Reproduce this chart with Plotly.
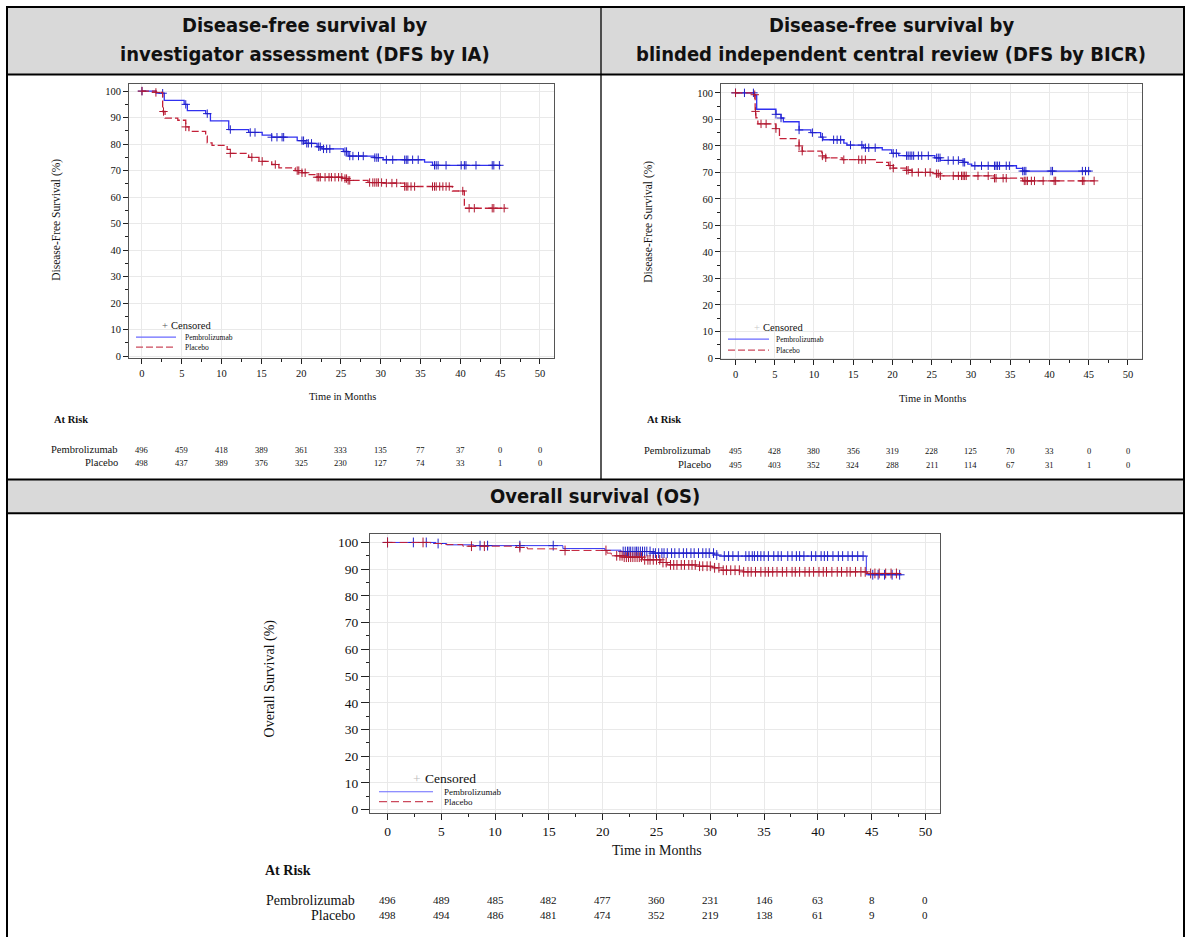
import plotly.graph_objects as go

W, H = 1187, 942
SERIF = "Liberation Serif, Times New Roman, serif"
HEAD = "Liberation Sans Narrow, Arial Narrow, DejaVu Sans Condensed, sans-serif"
BLUE = "#3030f0"
BLUE_M = "#2020c8"
RED = "#c42038"
RED_M = "#b01830"

# ---------------- data ----------------
x_ticks = [0, 5, 10, 15, 20, 25, 30, 35, 40, 45, 50]
y_ticks = [0, 10, 20, 30, 40, 50, 60, 70, 80, 90, 100]
risk_times = [0, 5, 10, 15, 20, 25, 30, 35, 40, 45, 50]
groups = ["Pembrolizumab", "Placebo"]

# DFS by IA
ia_pem_t = [0, 1.8, 2.8, 5.3, 5.7, 8.0, 8.6, 10.9, 13.4, 15.1, 16.3, 19.5, 20.5, 22.0, 22.6, 25.3, 25.9, 29.25, 30.3, 35.5, 36.5, 45.1]
ia_pem_s = [100, 99.2, 96.5, 95.0, 92.6, 91.5, 88.8, 85.5, 84.4, 83.4, 82.6, 81.3, 80.3, 79.0, 78.2, 77.2, 75.5, 74.9, 74.1, 73.2, 72.0, 72.0]
ia_pla_t = [0, 1.75, 2.6, 2.9, 4.5, 5.5, 5.9, 8.0, 8.2, 8.8, 10.7, 11.1, 13.4, 14.7, 16.3, 17.2, 19.25, 20.1, 20.7, 22.0, 25.3, 25.9, 28.4, 30.3, 33.0, 39.0, 40.5, 45.7]
ia_pla_s = [100, 99.5, 92.3, 89.8, 89.0, 86.5, 84.8, 83.0, 80.5, 79.5, 78.0, 76.5, 75.0, 73.5, 72.3, 71.0, 70.0, 69.2, 68.5, 67.5, 67.0, 66.3, 65.5, 65.3, 64.0, 62.3, 55.8, 55.8]
ia_pem_c = [0, 2.6, 5.5, 8.2, 11.1, 13.6, 14.2, 16.3, 16.96, 17.6, 17.8, 20.1, 20.3, 20.7, 20.9, 21.3, 22.2, 22.4, 22.8, 23.2, 23.6, 25.5, 25.7, 26.1, 26.5, 27.2, 27.8, 29.25, 29.5, 29.7, 30.7, 31.5, 33.0, 33.2, 33.4, 34.0, 34.7, 36.75, 36.96, 37.2, 38.2, 40.1, 40.5, 40.7, 41.96, 44.0, 44.2, 44.9]
ia_pla_c = [0, 1.75, 2.7, 5.5, 11.1, 13.8, 15.1, 16.75, 19.5, 19.7, 20.1, 20.5, 22.0, 22.2, 22.4, 23.0, 23.5, 23.8, 24.25, 24.7, 25.1, 25.5, 25.7, 25.9, 26.1, 28.6, 29.0, 29.25, 29.5, 29.7, 30.1, 30.7, 31.4, 32.0, 33.0, 33.2, 33.4, 33.8, 34.25, 36.5, 36.75, 36.96, 37.4, 37.8, 38.2, 38.6, 40.3, 41.1, 41.75, 44.0, 44.2, 45.5]
ia_risk_pem = [496, 459, 418, 389, 361, 333, 135, 77, 37, 0, 0]
ia_risk_pla = [498, 437, 389, 376, 325, 230, 127, 74, 33, 1, 0]

# DFS by BICR
bi_pem_t = [0, 2.4, 2.7, 5.15, 5.8, 6.1, 8.1, 9.6, 10.85, 11.15, 13.8, 14.2, 16.3, 18.7, 19.9, 20.8, 25.4, 26.1, 29.0, 29.6, 30.1, 35.8, 36.6, 45.3]
bi_pem_s = [100, 99.0, 93.8, 91.9, 90.5, 89.1, 86.0, 85.0, 83.3, 82.3, 81.0, 80.3, 79.3, 78.5, 77.2, 76.3, 75.5, 74.5, 73.8, 73.1, 72.5, 71.5, 70.5, 70.5]
bi_pla_t = [0, 2.4, 2.5, 2.6, 2.85, 5.15, 5.6, 8.1, 8.5, 11.0, 11.5, 13.6, 17.8, 19.5, 20.1, 21.8, 22.5, 25.6, 26.1, 33.0, 36.6, 46.1]
bi_pla_s = [100, 99.3, 93.0, 90.6, 88.3, 86.5, 82.7, 80.0, 78.0, 76.2, 75.5, 74.8, 73.8, 72.6, 71.6, 70.8, 70.0, 69.5, 68.7, 67.8, 66.8, 66.8]
bi_pem_c = [0, 1.14, 2.28, 5.15, 5.8, 8.1, 9.8, 11.07, 12.5, 12.95, 13.4, 14.65, 16.1, 16.55, 16.98, 17.8, 20.1, 20.5, 21.8, 22.0, 22.25, 22.47, 22.7, 23.3, 23.73, 24.57, 25.63, 25.84, 26.06, 27.1, 27.75, 28.4, 29.0, 29.2, 30.5, 31.35, 32.2, 33.0, 33.2, 33.4, 33.65, 34.5, 34.9, 36.6, 36.8, 37.0, 40.2, 40.4, 44.2, 44.6, 45.0]
bi_pla_c = [0, 2.45, 2.55, 3.25, 3.9, 5.15, 8.1, 8.5, 11.07, 11.5, 13.8, 15.7, 16.1, 16.55, 19.7, 20.1, 21.8, 22.0, 22.5, 23.3, 24.2, 24.8, 25.6, 25.84, 26.1, 27.75, 28.4, 28.8, 29.0, 29.2, 29.4, 30.9, 32.2, 33.0, 33.2, 34.1, 34.5, 36.8, 37.0, 37.2, 37.7, 38.1, 39.2, 40.6, 40.8, 44.2, 44.4, 45.7]
bi_risk_pem = [495, 428, 380, 356, 319, 228, 125, 70, 33, 0, 0]
bi_risk_pla = [495, 403, 352, 324, 288, 211, 114, 67, 31, 1, 0]

# OS
os_pem_t = [0, 4.5, 5.5, 8.0, 16.3, 20.2, 21.7, 24.6, 30.4, 30.8, 44.5, 47.8]
os_pem_s = [100, 99.6, 99.1, 98.8, 97.7, 97.1, 96.6, 96.0, 95.3, 94.9, 87.9, 87.9]
os_pla_t = [0, 4.0, 5.0, 7.0, 12.0, 13.0, 15.9, 20.4, 20.8, 21.9, 23.7, 25.4, 26.0, 28.7, 30.2, 31.0, 32.9, 44.6, 47.5]
os_pla_s = [100, 99.6, 99.2, 98.6, 98.1, 97.6, 97.0, 96.0, 95.0, 94.5, 93.5, 92.5, 91.6, 91.1, 90.5, 89.6, 89.0, 88.4, 88.4]
os_pem_c = [0, 2.4, 3.6, 4.7, 8.6, 9.3, 12.3, 15.4, 21.9, 22.1, 22.3, 22.45, 22.6, 22.8, 23.0, 23.15, 23.3, 23.5, 23.7, 23.9, 24.1, 24.4, 24.7, 24.9, 25.2, 25.5, 25.7, 26.0, 26.4, 26.7, 27.1, 27.5, 27.8, 28.2, 28.5, 28.9, 29.3, 29.6, 29.9, 30.3, 30.6, 31.3, 31.7, 32.1, 32.6, 33.3, 33.6, 33.9, 34.1, 34.4, 34.7, 35.0, 35.4, 35.9, 36.3, 36.6, 37.2, 37.6, 38.0, 38.3, 38.7, 39.4, 39.8, 40.3, 40.6, 40.9, 41.4, 41.9, 42.3, 42.8, 43.2, 43.7, 44.2, 45.1, 45.6, 46.2, 46.9, 47.6]
os_pla_c = [0, 3.3, 7.8, 9.0, 12.3, 16.5, 20.3, 21.3, 21.6, 21.8, 22.0, 22.2, 22.4, 22.6, 22.8, 23.0, 23.2, 23.4, 23.6, 23.9, 24.2, 24.4, 24.7, 25.0, 25.3, 25.6, 25.9, 26.3, 26.6, 26.9, 27.3, 27.6, 28.0, 28.3, 28.6, 29.0, 29.3, 29.7, 30.0, 30.4, 30.8, 31.2, 31.5, 31.9, 32.3, 32.7, 33.1, 33.5, 33.8, 34.2, 34.7, 35.1, 35.4, 35.8, 36.2, 36.7, 37.1, 37.6, 37.9, 38.3, 38.8, 39.2, 39.6, 40.1, 40.5, 40.8, 41.3, 41.8, 42.2, 42.7, 43.0, 43.5, 44.0, 44.4, 44.9, 45.3, 45.7, 46.3, 46.8, 47.3]
os_risk_pem = [496, 489, 485, 482, 477, 360, 231, 146, 63, 8, 0]
os_risk_pla = [498, 494, 486, 481, 474, 352, 219, 138, 61, 9, 0]

headers_top = [["Disease-free survival by", "investigator assessment (DFS by IA)"],
               ["Disease-free survival by", "blinded independent central review (DFS by BICR)"]]
header_os = "Overall survival (OS)"


# ---------------- helpers ----------------
def px(x):
    return x / W


def py(y):
    return 1 - y / H


def step_val(ts, ss, t):
    v = ss[0]
    for a, b in zip(ts, ss):
        if a <= t:
            v = b
    return v


fig = go.Figure()


def add_km(ts, ss, cens, color, mcolor, dash, width, msize, xa, ya):
    fig.add_trace(go.Scatter(x=ts, y=ss, mode="lines",
                             line=dict(color=color, width=width, dash=dash, shape="hv"),
                             xaxis=xa, yaxis=ya, hoverinfo="skip", showlegend=False))
    fig.add_trace(go.Scatter(x=cens, y=[step_val(ts, ss, c) for c in cens], mode="markers",
                             marker=dict(symbol="cross-thin", size=msize,
                                         line=dict(color=mcolor, width=1.0)),
                             xaxis=xa, yaxis=ya, hoverinfo="skip", showlegend=False))


add_km(ia_pem_t, ia_pem_s, ia_pem_c, BLUE, BLUE_M, "solid", 1.3, 6, "x", "y")
add_km(ia_pla_t, ia_pla_s, ia_pla_c, RED, RED_M, "7px,3px", 1.3, 6, "x", "y")
add_km(bi_pem_t, bi_pem_s, bi_pem_c, BLUE, BLUE_M, "solid", 1.3, 6, "x2", "y2")
add_km(bi_pla_t, bi_pla_s, bi_pla_c, RED, RED_M, "7px,3px", 1.3, 6, "x2", "y2")
add_km(os_pem_t, os_pem_s, os_pem_c, BLUE, BLUE_M, "solid", 1.0, 7, "x3", "y3")
add_km(os_pla_t, os_pla_s, os_pla_c, RED, RED_M, "8px,4px", 1.0, 7, "x3", "y3")


def xax(d0, d1, rng, fs, anchor, tl):
    return dict(domain=[px(d0), px(d1)], range=rng, anchor=anchor,
                tickmode="linear", tick0=0, dtick=5,
                ticks="outside", ticklen=tl, tickwidth=1, tickcolor="#222",
                showline=True, linecolor="#555", linewidth=1, mirror=True,
                showgrid=True, gridcolor="#e9e9e9", gridwidth=1, zeroline=False,
                tickfont=dict(family=SERIF, size=fs, color="#111"),
                minor=dict(tick0=0, dtick=2.5, ticklen=3, tickcolor="#222", ticks="outside", showgrid=False),
                fixedrange=True)


def yax(d0, d1, rng, fs, anchor, tl):
    return dict(domain=[py(d1), py(d0)], range=rng, anchor=anchor,
                tickmode="linear", tick0=0, dtick=10,
                ticks="outside", ticklen=tl, tickwidth=1, tickcolor="#222",
                showline=True, linecolor="#555", linewidth=1, mirror=True,
                showgrid=True, gridcolor="#e9e9e9", gridwidth=1, zeroline=False,
                tickfont=dict(family=SERIF, size=fs, color="#111"),
                minor=dict(tick0=0, dtick=5, ticklen=3, tickcolor="#222", ticks="outside", showgrid=False),
                fixedrange=True)


layout = dict(
    width=W, height=H, autosize=False,
    margin=dict(l=0, r=0, t=0, b=0),
    paper_bgcolor="white", plot_bgcolor="white",
    showlegend=False,
    xaxis=xax(129, 554, [-1.63, 51.76], 10.5, "y", 5),
    yaxis=yax(84, 360, [-0.75, 102.85], 10.5, "x", 5),
    xaxis2=xax(721, 1142, [-1.85, 51.8], 10.5, "y2", 5),
    yaxis2=yax(84, 361, [-0.4, 103.5], 10.5, "x2", 5),
    xaxis3=xax(370, 940, [-1.63, 51.35], 13.5, "y3", 6),
    yaxis3=yax(537, 817, [-1.1, 103.1], 13.5, "x3", 8),
)
fig.update_layout(**layout)

shapes = []
ann = []


def text(t, x, y, size, family=SERIF, xanchor="center", yanchor="middle", color="#111",
         xref="paper", angle=0):
    ann.append(dict(text=t, x=x if xref != "paper" else px(x), y=py(y), xref=xref, yref="paper",
                    showarrow=False, xanchor=xanchor, yanchor=yanchor, textangle=angle,
                    font=dict(family=family, size=size, color=color)))


def line(x0, y0, x1, y1, color="black", width=2, dash="solid"):
    shapes.append(dict(type="line", xref="paper", yref="paper", x0=px(x0), y0=py(y0),
                       x1=px(x1), y1=py(y1), line=dict(color=color, width=width, dash=dash)))


# table backgrounds
shapes.append(dict(type="rect", xref="paper", yref="paper", x0=px(7), x1=px(1184), y0=py(75), y1=py(7),
                   fillcolor="#d9d9d9", line=dict(width=0), layer="below"))
shapes.append(dict(type="rect", xref="paper", yref="paper", x0=px(7), x1=px(1184), y0=py(516), y1=py(482),
                   fillcolor="#d9d9d9", line=dict(width=0), layer="below"))
# table borders
line(7, 7, 1184, 7)
line(7, 6, 7, 942)
line(1184, 6, 1184, 942)
line(7, 75, 1184, 75)
line(601, 7, 601, 482, width=1.3)
line(7, 482, 1184, 482)
line(7, 516, 1184, 516)

# headers
text("<b>%s</b>" % headers_top[0][0], 305, 25, 20, family=HEAD)
text("<b>%s</b>" % headers_top[0][1], 305, 54, 20, family=HEAD)
text("<b>%s</b>" % headers_top[1][0], 891, 25, 20, family=HEAD)
text("<b>%s</b>" % headers_top[1][1], 891, 54, 20, family=HEAD)
text("<b>%s</b>" % header_os, 595, 499, 20, family=HEAD)

# ---------- panel texts ----------
panels = [
    dict(xref="x", ytitle="Disease-Free Survival (%)", yt=(57, 221), xt=(342, 399), ytfs=11.5,
         atrisk=(52, 422), rowlab_r=120, rows=(452, 465), fs=10.5, nfs=8.5,
         risk=(ia_risk_pem, ia_risk_pla),
         cens=(160, 327, "#555"), leg=(136, 176, 183, 339, 349), lfs=7.5, cfs=10.5, dash="7px,3px"),
    dict(xref="x2", ytitle="Disease-Free Survival (%)", yt=(649, 223), xt=(932, 401), ytfs=11.5,
         atrisk=(645, 422), rowlab_r=713, rows=(453, 467), fs=10.5, nfs=8.5,
         risk=(bi_risk_pem, bi_risk_pla),
         cens=(752, 329, "#c8c8c8"), leg=(728, 769, 774, 341, 352), lfs=7.5, cfs=10.5, dash="7px,3px"),
    dict(xref="x3", ytitle="Overall Survival (%)", yt=(270, 682), xt=(657, 855), ytfs=14,
         atrisk=(263, 875), rowlab_r=357, rows=(905, 920), fs=14, nfs=11,
         risk=(os_risk_pem, os_risk_pla),
         cens=(411, 783, "#bbbbbb"), leg=(379, 433, 442, 796, 806), lfs=9, cfs=13.5, dash="8px,4px"),
]

for p in panels:
    text(p["ytitle"], p["yt"][0], p["yt"][1], p["ytfs"], angle=-90)
    text("Time in Months", p["xt"][0], p["xt"][1], p["fs"])
    text("<b>At Risk</b>", p["atrisk"][0], p["atrisk"][1], p["fs"], xanchor="left")
    for gi, g in enumerate(groups):
        ry = p["rows"][gi]
        text(g, p["rowlab_r"], ry, p["fs"], xanchor="right")
        for t, n in zip(risk_times, p["risk"][gi]):
            text(str(n), t, ry, p["nfs"], xref=p["xref"])
    # legend
    cx, cy, ccol = p["cens"]
    text("+", cx, cy, p["cfs"], xanchor="left", color=ccol)
    text("Censored", cx + 9 * p["cfs"] / 10.5, cy, p["cfs"], xanchor="left")
    l0, l1, tx, y1, y2 = p["leg"]
    line(l0, y1, l1, y1, color="#6a6aff", width=1.2)
    line(l0, y2, l1, y2, color="#cc4a5c", width=1.2, dash=p["dash"])
    text(groups[0], tx, y1, p["lfs"], xanchor="left")
    text(groups[1], tx, y2, p["lfs"], xanchor="left")

fig.update_layout(shapes=shapes, annotations=ann)

fig.write_html("out.html", config={"displayModeBar": False},
               post_script="document.body.style.margin='0px';")
